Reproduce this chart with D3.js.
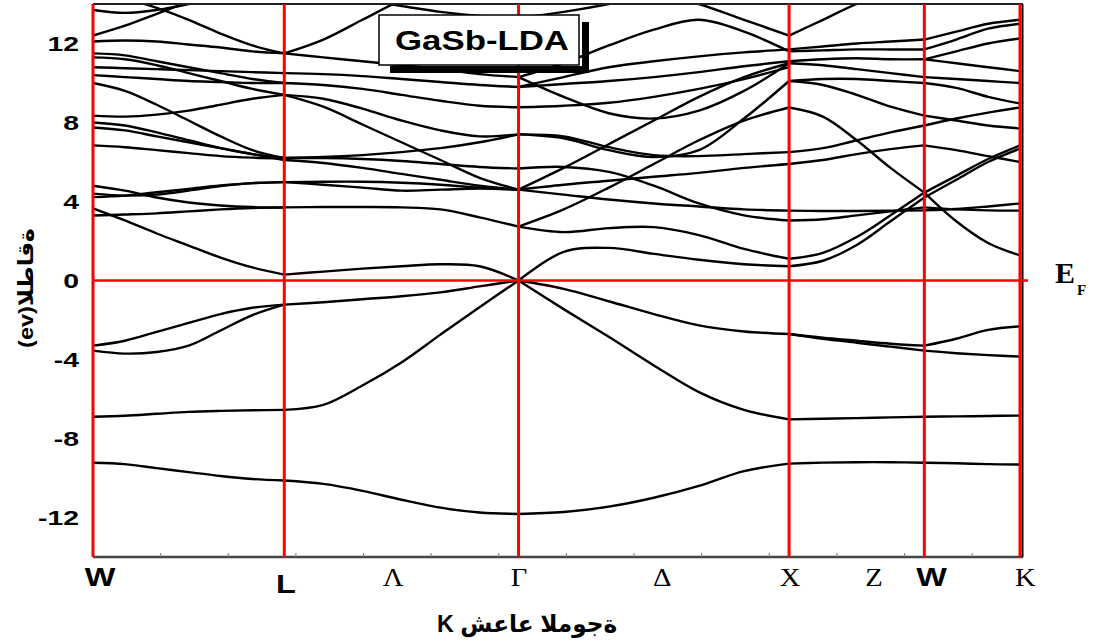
<!DOCTYPE html>
<html>
<head>
<meta charset="utf-8">
<script src="https://cdn.jsdelivr.net/npm/d3@7"></script>
<style>
  html, body { margin: 0; padding: 0; background: #fff; }
  svg { display: block; }
</style>
</head>
<body>
<svg id="chart" width="1096" height="644"></svg>
<script>
// High-symmetry points along the FCC path (units of 2π/a)
const kNames = ["W", "L", "Γ", "X", "W", "K"];
const kPos = [0, 0.7071, 1.5731, 2.5731, 3.0731, 3.4267];

// Bottom labels and their k positions
const kLabelText = ["W", "L", "Λ", "Γ", "Δ", "X", "Z", "W", "K"];
const kLabelPos = [0.026, 0.713, 1.109, 1.575, 2.104, 2.577, 2.887, 3.10, 3.446];

const yTicks = [-12, -8, -4, 0, 4, 8, 12];

// Band energies (eV) sampled evenly along each path segment
const bandsWL = [
  [-9.23, -9.3, -9.5, -9.7, -9.9, -10.05, -10.13],
  [-6.9, -6.85, -6.75, -6.65, -6.6, -6.57, -6.55],
  [-3.3, -3.05, -2.6, -2.15, -1.7, -1.38, -1.22],
  [-3.55, -3.7, -3.62, -3.3, -2.53, -1.75, -1.22],
  [3.65, 3.04, 2.38, 1.77, 1.16, 0.66, 0.3],
  [3.29, 3.34, 3.4, 3.5, 3.6, 3.67, 3.7],
  [4.22, 4.3, 4.47, 4.64, 4.81, 4.93, 4.98],
  [4.8, 4.55, 4.2, 3.95, 3.8, 3.72, 3.7],
  [4.4, 4.3, 4.35, 4.55, 4.78, 4.93, 4.98],
  [6.84, 6.75, 6.6, 6.45, 6.3, 6.22, 6.18],
  [7.75, 7.6, 7.3, 7.0, 6.7, 6.4, 6.2],
  [8.0, 7.85, 7.5, 7.1, 6.7, 6.4, 6.1],
  [8.35, 8.3, 8.4, 8.6, 8.9, 9.2, 9.4],
  [10.0, 9.6, 8.9, 8.1, 7.3, 6.6, 6.2],
  [10.4, 10.3, 10.2, 10.1, 10.05, 10.0, 10.0],
  [10.8, 10.75, 10.7, 10.65, 10.6, 10.55, 10.5],
  [11.3, 11.2, 10.9, 10.5, 10.1, 9.7, 9.4],
  [11.5, 11.4, 11.1, 10.8, 10.5, 10.2, 10.0],
  [12.1, 12.15, 12.1, 11.95, 11.8, 11.6, 11.5],
  [12.4, 12.9, 13.5, 14.1, 14.6, 15.0, 15.3],
  [14.8, 14.3, 13.8, 13.2, 12.5, 11.9, 11.5],
  [13.7, 13.55, 13.7, 14.0, 14.4, 14.8, 15.0]
];

const bandsLG = [
  [-10.13, -10.3, -10.65, -11.1, -11.5, -11.75, -11.82],
  [-6.55, -6.3, -5.32, -4.15, -2.74, -1.35, 0],
  [-1.22, -1.1, -0.95, -0.8, -0.6, -0.3, 0],
  [0.3, 0.45, 0.6, 0.72, 0.82, 0.72, 0],
  [3.7, 3.72, 3.72, 3.7, 3.6, 3.2, 2.73],
  [4.98, 5.0, 5.0, 4.95, 4.85, 4.7, 4.6],
  [4.98, 4.85, 4.7, 4.55, 4.6, 4.65, 4.6],
  [6.2, 6.2, 6.15, 6.05, 5.9, 5.75, 5.67],
  [6.1, 5.95, 5.7, 5.4, 5.1, 4.8, 4.6],
  [9.4, 8.8, 7.9, 7.0, 6.1, 5.2, 4.6],
  [9.4, 9.2, 8.7, 8.1, 7.6, 7.3, 7.4],
  [10.0, 9.9, 9.7, 9.4, 9.1, 8.85, 8.77],
  [10.5, 10.45, 10.35, 10.2, 10.05, 9.9, 9.8],
  [11.5, 12.2, 13.2, 14.2, 15.0, 15.5, 16.0],
  [11.5, 11.3, 11.1, 10.9, 10.7, 10.45, 10.3],
  [6.2, 6.25, 6.35, 6.5, 6.7, 7.0, 7.4],
  [15.0, 14.6, 14.2, 13.9, 13.6, 13.4, 13.3]
];

const bandsGX = [
  [-11.82, -11.72, -11.45, -11.0, -10.4, -9.65, -9.27],
  [0, -1.45, -2.85, -4.3, -5.65, -6.55, -7.03],
  [0, -0.42, -1.05, -1.7, -2.27, -2.58, -2.71],
  [0, 1.45, 1.65, 1.35, 1.05, 0.82, 0.72],
  [2.73, 2.45, 2.65, 2.7, 2.3, 1.6, 1.1],
  [2.73, 3.6, 4.7, 5.9, 7.1, 8.1, 8.76],
  [4.6, 5.7, 6.9, 8.1, 9.3, 10.3, 11.0],
  [4.6, 4.85, 5.05, 5.25, 5.45, 5.7, 5.9],
  [4.6, 4.35, 4.1, 3.9, 3.75, 3.6, 3.54],
  [5.67, 5.75, 5.5, 4.8, 3.9, 3.3, 3.04],
  [7.4, 7.3, 6.75, 6.35, 6.3, 6.4, 6.5],
  [7.4, 7.2, 6.6, 6.25, 6.6, 8.2, 10.1],
  [10.3, 9.3, 8.47, 8.2, 8.6, 9.6, 11.0],
  [8.77, 8.85, 9.0, 9.3, 9.7, 10.2, 10.8],
  [9.8, 9.95, 10.1, 10.3, 10.55, 10.85, 11.1],
  [10.3, 11.0, 11.9, 12.7, 13.2, 12.6, 11.6],
  [16.0, 15.6, 15.1, 14.6, 14.0, 13.2, 12.4],
  [13.3, 13.6, 14.0, 14.5, 15.0, 15.5, 16.0],
  [9.8, 10.3, 10.8, 11.1, 11.35, 11.55, 11.7]
];

const bandsXW = [
  [-9.27, -9.22, -9.2, -9.2, -9.23],
  [-7.03, -7.0, -6.97, -6.93, -6.9],
  [-2.71, -2.9, -3.05, -3.2, -3.3],
  [-2.71, -2.95, -3.15, -3.35, -3.55],
  [0.72, 1.0, 1.8, 3.0, 4.2],
  [1.1, 1.4, 2.2, 3.3, 4.45],
  [8.76, 8.3, 7.1, 5.7, 4.45],
  [3.54, 3.52, 3.52, 3.53, 3.55],
  [3.04, 3.1, 3.3, 3.5, 3.7],
  [5.9, 6.1, 6.4, 6.65, 6.84],
  [6.5, 6.7, 7.1, 7.5, 7.85],
  [10.1, 9.9, 9.4, 8.8, 8.35],
  [10.1, 10.2, 10.2, 10.1, 10.0],
  [11.0, 10.9, 10.7, 10.5, 10.3],
  [11.1, 11.2, 11.25, 11.2, 11.2],
  [11.6, 11.65, 11.7, 11.7, 11.7],
  [12.4, 13.2, 14.0, 14.6, 15.0],
  [11.7, 11.85, 12.0, 12.1, 12.2]
];

const bandsWK = [
  [-9.23, -9.25, -9.3, -9.32],
  [-6.9, -6.88, -6.86, -6.84],
  [-3.3, -2.95, -2.5, -2.32],
  [-3.55, -3.68, -3.78, -3.85],
  [4.2, 5.1, 6.0, 6.68],
  [4.45, 5.3, 6.15, 6.84],
  [4.45, 3.0, 1.9, 1.27],
  [3.55, 3.62, 3.75, 3.9],
  [3.7, 3.6, 3.55, 3.54],
  [6.84, 6.6, 6.3, 6.0],
  [7.85, 8.2, 8.5, 8.76],
  [8.35, 8.1, 7.85, 7.7],
  [10.0, 9.75, 9.3, 8.96],
  [10.3, 10.2, 10.1, 10.0],
  [11.2, 11.0, 10.8, 10.6],
  [11.7, 12.2, 12.75, 13.0],
  [12.2, 12.6, 13.0, 13.2],
  [11.2, 11.6, 12.0, 12.25]
];

const segmentBands = [bandsWL, bandsLG, bandsGX, bandsXW, bandsWK];

// ---- layout ----
const svg = d3.select("#chart");
const plotLeft = 93, plotRight = 1020, plotTop = 4, plotBottom = 557;

const x = d3.scaleLinear().domain([kPos[0], kPos[kPos.length - 1]]).range([plotLeft, plotRight]);
const y = d3.scaleLinear().domain([-14, 14]).range([plotBottom, plotTop]);

svg.append("defs").append("clipPath").attr("id", "plotClip")
  .append("rect").attr("x", plotLeft).attr("y", plotTop)
  .attr("width", plotRight - plotLeft).attr("height", plotBottom - plotTop);

// ---- bands ----
const bandLine = d3.line()
  .x(d => x(d[0]))
  .y(d => y(d[1]))
  .curve(d3.curveCatmullRom.alpha(0.5));

const bandLayer = svg.append("g").attr("clip-path", "url(#plotClip)");
segmentBands.forEach((bands, s) => {
  const k0 = kPos[s], k1 = kPos[s + 1];
  bands.forEach(vals => {
    const n = vals.length - 1;
    const pts = vals.map((e, i) => [k0 + (k1 - k0) * i / n, e]);
    bandLayer.append("path")
      .attr("d", bandLine(pts))
      .attr("fill", "none")
      .attr("stroke", "#000")
      .attr("stroke-width", 2.4)
      .attr("stroke-linejoin", "round");
  });
});

// ---- frame ----
svg.append("line").attr("x1", plotLeft).attr("x2", plotRight + 3).attr("y1", plotTop).attr("y2", plotTop)
  .attr("stroke", "#222").attr("stroke-width", 2);
svg.append("line").attr("x1", plotLeft).attr("x2", plotRight + 3).attr("y1", plotBottom).attr("y2", plotBottom)
  .attr("stroke", "#444").attr("stroke-width", 2.5);
svg.append("line").attr("x1", plotRight + 2.5).attr("x2", plotRight + 2.5).attr("y1", plotTop).attr("y2", plotBottom)
  .attr("stroke", "#000").attr("stroke-width", 2);

// minor ticks on the k axis
const xMinor = d3.range(0.25, kPos[kPos.length - 1], 0.25);
svg.append("g").selectAll("line").data(xMinor).join("line")
  .attr("x1", d => x(d)).attr("x2", d => x(d))
  .attr("y1", plotBottom).attr("y2", plotBottom - 4)
  .attr("stroke", "#777").attr("stroke-width", 1);

// ---- red reference lines ----
svg.append("g").selectAll("line").data(kPos).join("line")
  .attr("x1", d => x(d)).attr("x2", d => x(d))
  .attr("y1", plotTop).attr("y2", plotBottom)
  .attr("stroke", "#ff0000").attr("stroke-width", 3);
svg.append("line")
  .attr("x1", plotLeft).attr("x2", plotRight + 8)
  .attr("y1", y(0)).attr("y2", y(0))
  .attr("stroke", "#ff0000").attr("stroke-width", 2.5);

// ---- text helpers ----
function stretchedText(g, tx, ty, str, sx, attrs) {
  const t = g.append("text")
    .attr("transform", `translate(${tx},${ty}) scale(${sx},1)`)
    .text(str);
  Object.entries(attrs).forEach(([k, v]) => t.attr(k, v));
  return t;
}

// y tick labels
const yLab = svg.append("g");
yTicks.forEach(v => {
  stretchedText(yLab, 79, y(v) + 7.5, String(v), 1.35, {
    "text-anchor": "end", "font-family": "Liberation Sans, Arial, sans-serif",
    "font-weight": "bold", "font-size": 21, "fill": "#000"
  });
});

// k-point labels
const serifLabels = new Set(["Λ", "Γ", "Δ", "X", "Z", "K"]);
const xLab = svg.append("g");
kLabelText.forEach((t, i) => {
  const serif = serifLabels.has(t);
  const yy = t === "L" ? 593 : 586;
  stretchedText(xLab, x(kLabelPos[i]), yy, t, serif ? 1.1 : 1.3, {
    "text-anchor": "middle",
    "font-family": serif ? "Liberation Serif, Times New Roman, serif" : "Liberation Sans, Arial, sans-serif",
    "font-weight": serif ? "normal" : "bold",
    "font-size": serif ? 26 : 25,
    "fill": "#000"
  });
});

// axis titles
svg.append("text")
  .attr("transform", "translate(33,288) rotate(-90) scale(1.12,1)")
  .attr("text-anchor", "middle")
  .attr("font-family", "Liberation Sans, DejaVu Sans, sans-serif")
  .attr("font-weight", "bold").attr("font-size", 21)
  .style("direction", "ltr").style("unicode-bidi", "bidi-override")
  .text("(ev)الطاقة");

svg.append("text")
  .attr("transform", "translate(437,632) scale(0.97,1)")
  .attr("text-anchor", "start")
  .attr("font-family", "Liberation Sans, DejaVu Sans, sans-serif")
  .attr("font-weight", "bold").attr("font-size", 24)
  .style("direction", "ltr").style("unicode-bidi", "bidi-override")
  .text("K شعاع الموجة");

// Fermi level label
const ef = svg.append("text")
  .attr("x", 1055).attr("y", 283)
  .attr("font-family", "Liberation Serif, Times New Roman, serif")
  .attr("font-weight", "bold").attr("font-size", 30);
ef.append("tspan").text("E");
ef.append("tspan").attr("font-size", 15).attr("dy", 12).attr("dx", 2).text("F");

// ---- title box with shadow ----
const box = svg.append("g");
box.append("rect").attr("x", 582).attr("y", 22).attr("width", 7).attr("height", 51).attr("fill", "#000");
box.append("rect").attr("x", 390).attr("y", 66).attr("width", 199).attr("height", 7).attr("fill", "#000");
box.append("rect").attr("x", 379).attr("y", 15).attr("width", 200).attr("height", 50)
  .attr("fill", "#fff").attr("stroke", "#000").attr("stroke-width", 1.5);
box.append("text")
  .attr("x", 395).attr("y", 50)
  .attr("textLength", 174).attr("lengthAdjust", "spacingAndGlyphs")
  .attr("font-family", "Liberation Sans, Arial, sans-serif")
  .attr("font-weight", "bold").attr("font-size", 27)
  .text("GaSb-LDA");
</script>
</body>
</html>
